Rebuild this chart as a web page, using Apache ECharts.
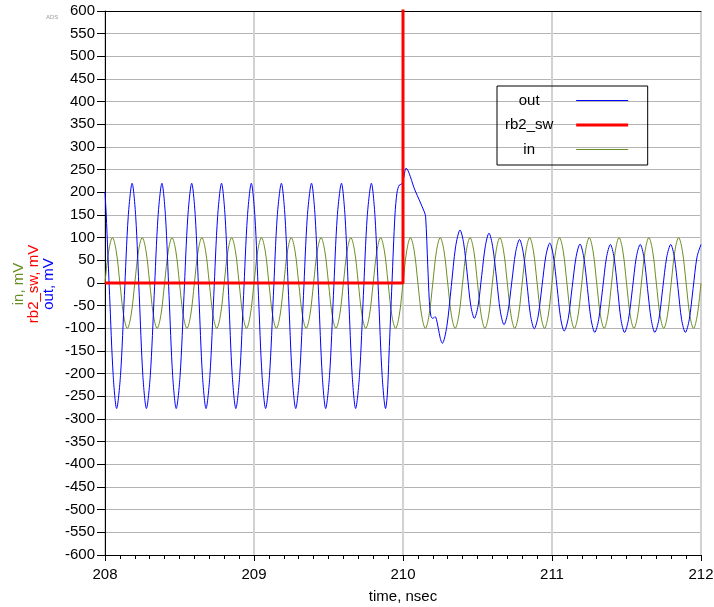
<!DOCTYPE html>
<html>
<head>
<meta charset="utf-8">
<script src="https://cdn.jsdelivr.net/npm/echarts@6/dist/echarts.min.js"></script>
<style>
  html, body { margin: 0; padding: 0; background: #fff; }
  #chart { width: 714px; height: 607px; }
</style>
</head>
<body>
<div id="chart"></div>
<script>
// time axis, nsec
const timeMin = 208;
const timeMax = 212;
const timeTicks = [208, 209, 210, 211, 212];
const mvMin = -600;
const mvMax = 600;

// out, mV  ([time, value])
const outWave = [
  [208, 200], [208.008, 152], [208.031, -28], [208.055, -204],
  [208.078, -277], [208.104, -204], [208.13, -28], [208.156, 147], [208.182, 220], [208.206, 147], [208.23, -28], [208.254, -204],
  [208.278, -277], [208.304, -204], [208.33, -28], [208.356, 147], [208.382, 220], [208.406, 147], [208.43, -28], [208.454, -204],
  [208.478, -277], [208.504, -204], [208.53, -28], [208.556, 147], [208.582, 220], [208.606, 147], [208.63, -28], [208.654, -204],
  [208.678, -277], [208.704, -204], [208.73, -28], [208.756, 147], [208.782, 220], [208.806, 147], [208.83, -28], [208.854, -204],
  [208.878, -277], [208.904, -204], [208.93, -28], [208.956, 147], [208.982, 220], [209.006, 147], [209.03, -28], [209.054, -204],
  [209.078, -277], [209.104, -204], [209.13, -28], [209.156, 147], [209.184, 220], [209.208, 147], [209.232, -28], [209.256, -204],
  [209.28, -277], [209.306, -204], [209.332, -28], [209.358, 147], [209.386, 220], [209.41, 147], [209.434, -28], [209.458, -204],
  [209.481, -277], [209.507, -204], [209.533, -28], [209.559, 147], [209.587, 220], [209.611, 147], [209.635, -28], [209.659, -204],
  [209.682, -277], [209.708, -204], [209.734, -28], [209.76, 147], [209.788, 220], [209.812, 147], [209.836, -28], [209.86, -204],
  [209.883, -277], [209.895, -245], [209.906, -159], [209.926, 0], [209.946, 150], [209.96, 200], [209.975, 216], [209.99, 218],
  [210.0, 224], [210.01, 242], [210.02, 253], [210.08, 205], [210.143, 157], [210.152, 146], [210.166, 40], [210.177, -41],
  [210.188, -74], [210.2, -78], [210.215, -74], [210.237, -100], [210.25, -122], [210.264, -133],
  [210.294, -96], [210.324, -8], [210.353, 80], [210.383, 117],
  [210.407, 88], [210.431, 20], [210.455, -50], [210.479, -78],
  [210.504, -50], [210.528, 16], [210.553, 82], [210.577, 110],
  [210.602, 80], [210.628, 9], [210.653, -62], [210.678, -92],
  [210.704, -64], [210.73, 2], [210.756, 68], [210.782, 96],
  [210.807, 67], [210.832, -2], [210.856, -72], [210.881, -101],
  [210.907, -73], [210.933, -6], [210.959, 60], [210.985, 88],
  [211.009, 60], [211.034, -9], [211.058, -78], [211.082, -106],
  [211.109, -78], [211.135, -10], [211.162, 58], [211.188, 86],
  [211.213, 57], [211.238, -12], [211.262, -80], [211.287, -109],
  [211.313, -81], [211.34, -12], [211.366, 57], [211.392, 85],
  [211.416, 57], [211.44, -12], [211.463, -81], [211.487, -109],
  [211.513, -81], [211.54, -12], [211.566, 57], [211.592, 85],
  [211.617, 57], [211.641, -12], [211.666, -81], [211.69, -109],
  [211.717, -81], [211.743, -12], [211.77, 57], [211.797, 85],
  [211.821, 57], [211.846, -12], [211.87, -81], [211.895, -109],
  [211.921, -81], [211.947, -12], [211.973, 57], [212, 85]
];

// rb2_sw, mV (goes off the top of the chart at 210 ns)
const rb2Wave = [[208, 0], [210, 0], [210, 1200], [212, 1200]];

// in, mV
const inWave = [
  [208, 0], [208.025, 71], [208.05, 100], [208.075, 71], [208.1, 0], [208.125, -71], [208.15, -100], [208.175, -71],
  [208.2, 0], [208.225, 71], [208.25, 100], [208.275, 71], [208.3, 0], [208.325, -71], [208.35, -100], [208.375, -71],
  [208.4, 0], [208.425, 71], [208.45, 100], [208.475, 71], [208.5, 0], [208.525, -71], [208.55, -100], [208.575, -71],
  [208.6, 0], [208.625, 71], [208.65, 100], [208.675, 71], [208.7, 0], [208.725, -71], [208.75, -100], [208.775, -71],
  [208.8, 0], [208.825, 71], [208.85, 100], [208.875, 71], [208.9, 0], [208.925, -71], [208.95, -100], [208.975, -71],
  [209, 0], [209.025, 71], [209.05, 100], [209.075, 71], [209.1, 0], [209.125, -71], [209.15, -100], [209.175, -71],
  [209.2, 0], [209.225, 71], [209.25, 100], [209.275, 71], [209.3, 0], [209.325, -71], [209.35, -100], [209.375, -71],
  [209.4, 0], [209.425, 71], [209.45, 100], [209.475, 71], [209.5, 0], [209.525, -71], [209.55, -100], [209.575, -71],
  [209.6, 0], [209.625, 71], [209.65, 100], [209.675, 71], [209.7, 0], [209.725, -71], [209.75, -100], [209.775, -71],
  [209.8, 0], [209.825, 71], [209.85, 100], [209.875, 71], [209.9, 0], [209.925, -71], [209.95, -100], [209.975, -71],
  [210, 0], [210.025, 71], [210.05, 100], [210.075, 71], [210.1, 0], [210.125, -71], [210.15, -100], [210.175, -71],
  [210.2, 0], [210.225, 71], [210.25, 100], [210.275, 71], [210.3, 0], [210.325, -71], [210.35, -100], [210.375, -71],
  [210.4, 0], [210.425, 71], [210.45, 100], [210.475, 71], [210.5, 0], [210.525, -71], [210.55, -100], [210.575, -71],
  [210.6, 0], [210.625, 71], [210.65, 100], [210.675, 71], [210.7, 0], [210.725, -71], [210.75, -100], [210.775, -71],
  [210.8, 0], [210.825, 71], [210.85, 100], [210.875, 71], [210.9, 0], [210.925, -71], [210.95, -100], [210.975, -71],
  [211, 0], [211.025, 71], [211.05, 100], [211.075, 71], [211.1, 0], [211.125, -71], [211.15, -100], [211.175, -71],
  [211.2, 0], [211.225, 71], [211.25, 100], [211.275, 71], [211.3, 0], [211.325, -71], [211.35, -100], [211.375, -71],
  [211.4, 0], [211.425, 71], [211.45, 100], [211.475, 71], [211.5, 0], [211.525, -71], [211.55, -100], [211.575, -71],
  [211.6, 0], [211.625, 71], [211.65, 100], [211.675, 71], [211.7, 0], [211.725, -71], [211.75, -100], [211.775, -71],
  [211.8, 0], [211.825, 71], [211.85, 100], [211.875, 71], [211.9, 0], [211.925, -71], [211.95, -100], [211.975, -71],
  [212, 0]
];

const FONT = 'Liberation Sans, Arial, sans-serif';
const BLUE = '#0000ff';
const RED = '#ff0000';
const OLIVE = '#6b8e23';

const chart = echarts.init(document.getElementById('chart'));

const option = {
  animation: false,
  backgroundColor: '#fff',
  textStyle: { fontFamily: FONT },
  grid: {
    left: 105, right: 13, top: 11, bottom: 52,
    containLabel: false,
    outerBoundsMode: 'none'
  },
  legend: {
    left: 497,
    top: 86,
    orient: 'vertical',
    align: 'right',
    padding: [7, 18, 8, 8],
    itemGap: 9.5,
    itemWidth: 52,
    itemHeight: 16,
    borderColor: '#000',
    borderWidth: 1,
    backgroundColor: 'transparent',
    itemStyle: { opacity: 0 },
    formatter: '{a|{name}}{b| }',
    textStyle: {
      color: '#000',
      fontSize: 15,
      fontFamily: FONT,
      rich: {
        a: { width: 60, align: 'center', fontSize: 15, fontFamily: FONT, color: '#000' },
        b: { width: 12, fontSize: 15 }
      }
    },
    data: [
      { name: 'out', lineStyle: { width: 1 } },
      { name: 'rb2_sw', lineStyle: { width: 3 } },
      { name: 'in', lineStyle: { width: 1 } }
    ]
  },
  xAxis: [
    {
      type: 'value',
      min: timeMin,
      max: timeMax,
      interval: 1,
      name: 'time, nsec',
      nameLocation: 'middle',
      nameGap: 34,
      nameTextStyle: { color: '#000', fontSize: 15, fontFamily: FONT },
      axisLine: { show: true, onZero: false, lineStyle: { color: '#000', width: 1 } },
      axisTick: { show: true, length: 6, lineStyle: { color: '#000' } },
      minorTick: { show: true, splitNumber: 10, length: 4, lineStyle: { color: '#000' } },
      axisLabel: {
        color: '#000', fontSize: 15, fontFamily: FONT, margin: 12,
        formatter: v => (timeTicks.indexOf(v) >= 0 ? String(v) : '')
      },
      splitLine: { show: true, lineStyle: { color: '#d2d2d2', width: 2 } }
    },
    {
      type: 'value',
      position: 'top',
      min: timeMin,
      max: timeMax,
      interval: 1,
      axisLine: { show: true, onZero: false, lineStyle: { color: '#000', width: 1 } },
      axisTick: { show: false },
      axisLabel: { show: false },
      splitLine: { show: false }
    }
  ],
  yAxis: {
    type: 'value',
    min: mvMin,
    max: mvMax,
    interval: 50,
    axisLine: { show: true, onZero: false, lineStyle: { color: '#000', width: 1 } },
    axisTick: { show: true, length: 8, lineStyle: { color: '#000' } },
    axisLabel: { color: '#000', fontSize: 15, fontFamily: FONT, margin: 10 },
    splitLine: { show: true, lineStyle: { color: '#b4b4b4', width: 1 } }
  },
  graphic: [
    {
      type: 'text', left: 46, top: 14,
      style: { text: 'ADS', fontSize: 6, fill: '#9a9a9a', fontFamily: FONT }
    },
    {
      type: 'text', x: 19, y: 284, rotation: Math.PI / 2,
      style: { text: 'in, mV', fontSize: 15, fontFamily: FONT, fill: OLIVE, align: 'center', verticalAlign: 'middle' }
    },
    {
      type: 'text', x: 34, y: 284, rotation: Math.PI / 2,
      style: { text: 'rb2_sw, mV', fontSize: 15, fontFamily: FONT, fill: RED, align: 'center', verticalAlign: 'middle' }
    },
    {
      type: 'text', x: 49, y: 284, rotation: Math.PI / 2,
      style: { text: 'out, mV', fontSize: 15, fontFamily: FONT, fill: BLUE, align: 'center', verticalAlign: 'middle' }
    }
  ],
  series: [
    {
      name: 'out',
      type: 'line',
      data: outWave,
      showSymbol: false,
      symbol: 'none',
      smooth: 0.3,
      z: 3,
      lineStyle: { color: BLUE, width: 1 },
      itemStyle: { color: BLUE }
    },
    {
      name: 'rb2_sw',
      type: 'line',
      data: rb2Wave,
      showSymbol: false,
      symbol: 'none',
      z: 4,
      lineStyle: { color: RED, width: 3 },
      itemStyle: { color: RED }
    },
    {
      name: 'in',
      type: 'line',
      data: inWave,
      showSymbol: false,
      symbol: 'none',
      smooth: 0.35,
      z: 2,
      lineStyle: { color: OLIVE, width: 1 },
      itemStyle: { color: OLIVE }
    }
  ]
};

chart.setOption(option);
</script>
</body>
</html>
